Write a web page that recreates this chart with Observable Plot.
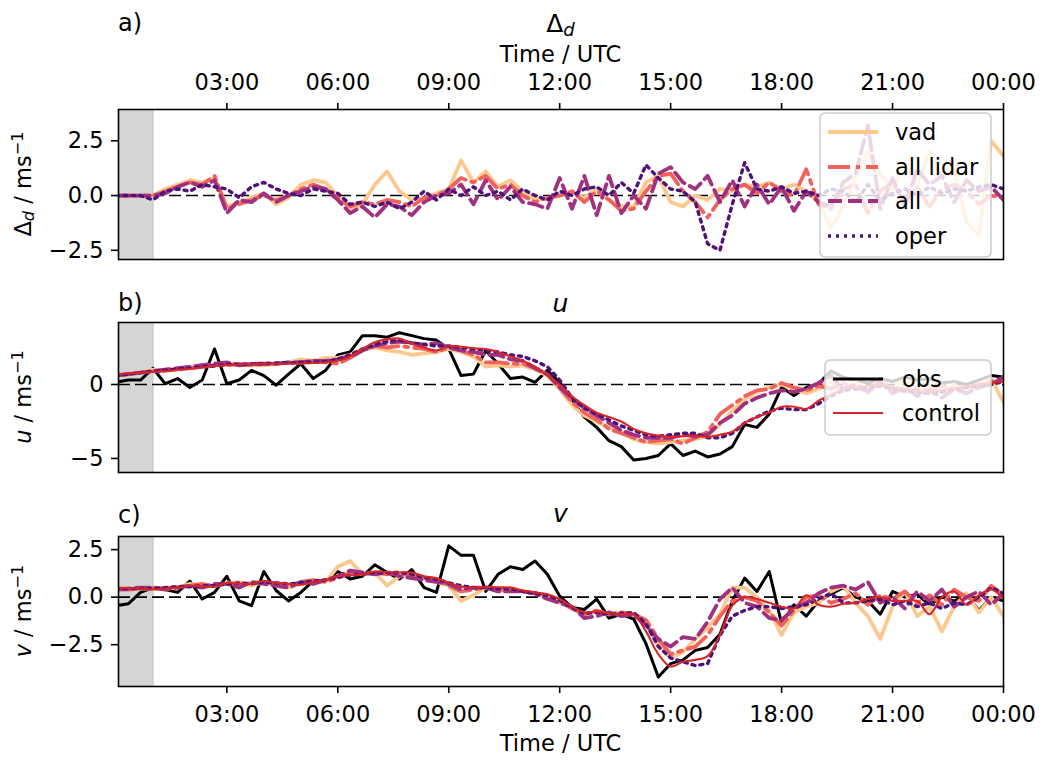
<!DOCTYPE html>
<html><head><meta charset="utf-8">
<script src="https://cdn.jsdelivr.net/npm/d3@7"></script>
<script src="https://cdn.jsdelivr.net/npm/@observablehq/plot@0.6"></script>
<style>
body{margin:0;background:#fff;}
#root{position:relative;width:1042px;height:760px;font-family:"DejaVu Sans",sans-serif;overflow:hidden;}
#root svg{position:absolute;left:0;}
</style></head>
<body><div id="root"></div>
<script>
// ---- time grid (hours UTC, 20-minute steps) and axis ticks ----
const times = d3.range(0, 73).map(k => k / 3);
const xTicks = [3, 6, 9, 12, 15, 18, 21, 24];
const spinUp = [{start: 0, end: 1}];
const seriesNames = ["vad", "all lidar", "all", "oper"];
const refNames = ["obs", "control"];

// ---- panel a: Δd ----
const dVad = [0,0,0, 0,0.3,0.5, 0.7,0.6,0.8, -0.5,-0.3,-0.1, 0.1,-0.4,-0.1, 0.5,0.7,0.6, 0.0,-0.6,-0.4, 0.5,1.1,0.2,
  -0.2,-0.1,0.1, 0.3,1.6,0.6, 1.1,0.4,0.7, 0.2,-0.15,-0.15, 0.0,0.1,-0.1, 0.3,-0.2,-0.5, -0.5,0.6,0.9, -0.3,-0.5,0.0,
  -0.2,0.3,0.2, 0.5,0.4,0.6, 0.3,0.5,0.2, -0.3,-1.5,-0.5, 0.8,2.0,1.0, 0.3,1.5,0.5, 2.0,0.8,1.2, -1.2,-1.8,2.5, 1.8];
const dLidar = [0,0,0, 0,0.2,0.4, 0.6,0.5,0.9, -0.6,-0.4,-0.2, 0.0,-0.2,0.0, 0.3,0.5,0.3, -0.1,-0.5,-0.3, -0.4,-0.2,-0.3,
  -0.5,-0.1,0.0, 0.3,0.8,0.6, 0.9,0.3,0.5, 0.0,-0.3,-0.1, 0.0,0.2,-0.3, 0.2,-0.2,-0.7, -0.6,0.2,0.9, 1.0,0.2,-0.3,
  -1.0,-0.2,0.3, 0.5,0.1,0.6, 0.2,0.0,1.2, -0.4,-0.6,0.3, 0.5,-0.8,0.2, 0.6,-0.3,0.4, -0.5,0.3,0.5, 0.2,-0.4,0.0, -0.1];
const dAll = [0,0,0, 0,0.1,0.4, 0.6,0.4,0.7, -0.8,-0.2,-0.3, 0.1,-0.3,0.0, 0.2,0.4,0.3, -0.2,-0.8,-0.5, -1.0,-0.4,-0.5,
  -0.9,-0.3,0.0, 0.1,0.5,-0.4, 0.7,-0.2,0.4, -0.3,-0.4,-0.6, 0.8,-0.6,0.9, -0.9,0.9,-0.8, 0.0,-0.6,1.0, 1.3,0.6,0.3,
  0.9,-0.3,0.7, -0.5,0.5,-0.4, 0.4,-0.7,0.2, -0.3,-0.5,0.6, 1.0,3.2,-0.6, 0.8,-0.5,1.2, 0.5,0.9,-0.3, 0.7,0.2,0.4, -0.2];
const dOper = [0,0,0, -0.2,0.2,0.3, 0.2,0.5,0.4, 0.3,-0.1,0.4, 0.6,0.3,0.1, 0.0,0.3,0.2, 0.1,-0.4,-0.3, -0.5,-0.3,-0.6,
  -0.3,0.2,-0.2, 0.3,0.0,0.4, 0.0,0.2,-0.2, 0.3,0.0,-0.2, 0.2,0.0,0.3, 0.4,0.0,0.6, 0.1,1.4,0.8, 0.3,0.2,-0.3,
  -2.2,-2.5,-0.4, 1.5,0.3,0.2, 0.4,0.1,0.2, 0.0,0.3,0.2, -0.3,0.5,-0.2, 0.1,0.3,0.0, 0.4,0.1,0.3, 0.2,0.4,0.5, 0.3];

// ---- panel b: u ----
const uObs = [0.15,0.3,0.3, 1.1,0.05,0.4, -0.2,0.3,2.4, 0.05,0.3,0.95, 0.6,-0.05,0.7, 1.4,0.4,0.95, 2.0,2.2,3.3, 3.3,3.2,3.5,
  3.3,3.1,3.0, 2.4,0.6,0.7, 2.3,1.4,0.4, 0.5,0.15,0.95, 0.15,-1.1,-2.2, -2.9,-3.8,-4.2, -5.1,-5.0,-4.8, -4.0,-4.8,-4.5,
  -4.9,-4.7,-4.2, -2.7,-2.9,-2.0, -0.2,-0.75,-0.2, 0.05,0.9,0.5, 0.3,0.1,0.4, 0.2,0.5,0.3, 0.4,0.1,0.2, 0.0,0.3,0.6, 0.5];
const uVad = [0.6,0.7,0.8, 1.0,0.9,1.0, 1.2,1.3,1.3, 1.4,1.3,1.3, 1.3,1.4,1.5, 1.7,1.6,1.8, 1.8,2.0,2.4, 2.5,2.3,2.2,
  2.0,2.1,2.2, 2.4,2.2,1.9, 1.2,1.3,1.2, 1.3,1.0,0.6, -0.3,-1.4,-2.1, -2.5,-2.9,-3.2, -3.7,-3.9,-4.0, -3.9,-3.8,-3.7,
  -3.5,-2.7,-1.8, -1.0,-0.5,-0.2, 0.0,-0.3,-0.6, -0.3,0.2,-0.5, 0.2,-0.6,0.1, -0.4,0.3,-0.8, -0.2,-0.5,0.0, -0.6,-0.2,0.4, -1.2];
const uLidar = [0.6,0.7,0.8, 0.9,1.0,1.0, 1.1,1.2,1.3, 1.3,1.4,1.3, 1.4,1.4,1.5, 1.5,1.6,1.5, 1.4,1.8,2.3, 2.6,2.5,2.6,
  2.5,2.4,2.2, 2.5,2.3,2.0, 1.5,1.5,1.4, 1.4,1.1,0.7, -0.2,-1.2,-1.9, -2.4,-3.0,-3.3, -3.6,-3.9,-3.8, -3.7,-4.0,-3.6,
  -3.2,-2.0,-1.4, -0.8,-0.4,-0.3, 0.1,-0.2,-0.4, -0.1,-0.3,0.1, -0.3,-0.4,0.0, -0.2,-0.5,-0.3, -0.4,-0.1,-0.3, -0.2,0.0,0.2, 0.4];
const uAll = [0.6,0.7,0.8, 0.9,1.0,1.1, 1.2,1.3,1.4, 1.5,1.3,1.4, 1.4,1.4,1.5, 1.5,1.6,1.6, 1.7,1.9,2.3, 2.6,2.8,2.9,
  2.8,2.7,2.8, 2.5,2.3,2.2, 2.0,2.0,1.7, 1.6,1.1,0.7, -0.2,-0.9,-1.6, -2.1,-2.6,-3.1, -3.4,-3.6,-3.6, -3.6,-3.4,-3.5,
  -3.4,-2.6,-2.1, -1.3,-0.9,-0.6, -0.4,-0.5,-0.3, 0.1,0.6,-0.3, 0.0,-0.5,0.2, -0.6,-0.2,-0.8, -0.4,-0.9,-0.3, -0.6,-0.2,0.0, 0.5];
const uOper = [0.6,0.7,0.8, 0.9,0.95,1.05, 1.1,1.2,1.25, 1.35,1.35,1.4, 1.4,1.45,1.45, 1.5,1.5,1.55, 1.7,2.0,2.4, 2.7,2.9,3.0,
  2.8,2.7,2.6, 2.6,2.5,2.4, 2.3,2.2,2.0, 1.9,1.6,1.2, 0.3,-0.9,-1.6, -2.0,-2.4,-2.8, -3.1,-3.4,-3.5, -3.4,-3.3,-3.3,
  -3.6,-3.6,-3.3, -2.6,-2.2,-1.8, -1.6,-1.7,-1.7, -1.3,-0.8,-0.4, -0.3,-0.2,-0.1, -0.3,-0.4,-0.5, -0.6,-0.5,-0.3, -0.2,-0.1,0.0, 0.2];
const uControl = [0.7,0.75,0.8, 0.85,0.9,1.0, 1.05,1.15,1.25, 1.3,1.35,1.4, 1.4,1.4,1.4, 1.4,1.45,1.5, 1.6,1.9,2.4, 2.85,3.05,3.1,
  2.75,2.5,2.3, 2.6,2.55,2.45, 2.4,2.2,1.9, 1.6,1.2,0.6, 0.0,-0.8,-1.4, -1.9,-2.2,-2.5, -3.0,-3.3,-3.45, -3.55,-3.5,-3.45,
  -3.55,-3.4,-3.2, -2.6,-2.2,-1.9, -1.5,-1.5,-1.65, -1.1,-0.7,-0.3, -0.2,-0.1,0.0, -0.2,-0.3,-0.4, -0.5,-0.4,-0.3, -0.1,0.0,0.1, 0.2];

// ---- panel c: v ----
const vObs = [-0.45,-0.35,0.25, 0.5,0.4,0.25, 0.85,-0.1,0.25, 1.1,-0.2,-0.45, 1.35,0.35,-0.2, 0.25,0.85,0.85, 1.35,0.95,1.1, 1.7,1.3,0.95,
  1.45,0.5,0.25, 2.7,2.2,2.2, 0.3,1.2,1.6, 1.45,1.9,1.2, 0.05,-0.55,-0.65, -0.1,-1.1,-0.9, -1.15,-2.45,-4.2, -3.5,-3.3,-2.8,
  -2.65,-1.95,-0.2, 1.0,0.3,1.35, -1.4,-0.4,-1.0, -0.2,0.15,0.5, 0.0,-0.2,-0.9, 0.3,0.0,0.15, -0.4,0.0,-0.2, 0.15,-0.7,0.0, -0.2];
const vVad = [0.4,0.45,0.45, 0.45,0.5,0.5, 0.7,0.6,0.6, 0.7,0.8,0.6, 0.8,0.6,0.5, 0.7,0.9,0.8, 1.6,1.9,1.2, 1.3,0.6,1.1,
  1.2,1.0,0.8, 0.6,-0.2,0.1, 0.5,0.3,0.5, 0.3,0.2,0.0, -0.3,-0.6,-0.9, -0.8,-0.9,-0.8, -0.9,-1.4,-2.5, -3.2,-2.9,-2.2,
  -1.6,-0.9,0.5, 0.5,0.0,-0.7, -2.0,-0.8,-0.5, -0.3,0.3,0.6, -0.3,-1.0,-2.2, -0.5,0.3,-1.0, -0.5,-1.8,-0.5, 0.2,-0.8,0.0, -1.0];
const vLidar = [0.4,0.4,0.45, 0.5,0.45,0.55, 0.6,0.7,0.55, 0.8,0.6,0.75, 0.8,0.7,0.6, 0.8,0.9,0.8, 1.0,1.3,1.2, 1.3,1.2,1.3,
  1.1,1.0,0.9, 0.6,0.3,0.4, 0.5,0.4,0.4, 0.3,0.2,0.1, -0.2,-0.6,-0.9, -0.7,-0.9,-0.8, -0.9,-1.2,-2.2, -3.0,-2.8,-2.6,
  -2.0,-1.0,-0.2, 0.0,-0.2,-0.8, -1.5,-0.7,0.0, 0.1,-0.3,-0.1, 0.2,-0.4,0.1, -0.1,0.3,-0.3, 0.1,-0.4,0.4, 0.0,-0.2,0.6, 0.1];
const vAll = [0.4,0.45,0.5, 0.5,0.4,0.5, 0.6,0.5,0.7, 0.7,0.5,0.8, 0.7,0.6,0.5, 0.8,0.7,0.9, 1.1,1.4,1.3, 1.2,1.3,1.1,
  1.0,0.9,0.8, 0.7,0.4,0.5, 0.5,0.3,0.3, 0.3,0.2,-0.1, -0.3,-0.5,-1.1, -1.0,-0.8,-1.0, -0.9,-1.5,-2.2, -2.6,-2.1,-2.2,
  -1.3,-0.1,0.5, -0.3,-0.5,-1.1, -1.2,-0.6,-0.3, 0.2,0.5,0.6, 0.4,0.8,-0.3, 0.0,-0.6,0.3, -0.2,0.4,-0.5, 0.0,0.3,-0.4, 0.2];
const vOper = [0.45,0.45,0.45, 0.45,0.5,0.55, 0.55,0.6,0.6, 0.7,0.75,0.7, 0.8,0.75,0.7, 0.75,0.85,0.9, 1.05,1.15,1.2, 1.3,1.3,1.3,
  1.2,1.05,0.95, 0.75,0.6,0.5, 0.5,0.45,0.45, 0.3,0.2,0.1, -0.15,-0.55,-0.85, -0.8,-0.9,-0.85, -0.8,-1.4,-2.6, -3.2,-3.4,-3.6,
  -3.5,-2.0,-1.0, -0.7,-0.5,-0.5, -0.6,-0.5,-0.4, -0.1,0.2,-0.3, -0.3,-0.2,-0.1, -0.4,-0.2,-0.5, -0.3,-0.6,-0.3, -0.4,0.0,0.5, 0.2];
const vControl = [0.5,0.48,0.45, 0.4,0.45,0.5, 0.6,0.58,0.55, 0.75,0.72,0.7, 0.85,0.75,0.7, 0.65,0.8,0.9, 1.1,1.15,1.2, 1.35,1.32,1.3,
  1.3,1.1,1.0, 0.75,0.55,0.5, 0.55,0.52,0.5, 0.35,0.25,0.15, -0.1,-0.5,-0.8, -0.75,-0.85,-0.9, -0.9,-1.8,-3.0, -3.65,-3.4,-3.3,
  -3.1,-2.0,-0.45, 0.0,-0.1,-0.3, -0.5,-0.6,0.1, -0.4,-0.5,-0.35, -0.3,-0.1,0.0, -0.2,-0.2,-0.2, -0.9,0.0,0.3, -0.4,0.1,0.4, -0.1];

// ---- styling ----
const styles = {
  "vad":       {stroke: "#fdc88e", strokeWidth: 3.8},
  "all lidar": {stroke: "#f1625c", strokeWidth: 3.8, strokeDasharray: "22,6,4,6"},
  "all":       {stroke: "#a1317e", strokeWidth: 3.8, strokeDasharray: "14,6"},
  "oper":      {stroke: "#4f127b", strokeWidth: 3.4, strokeDasharray: "3,5"},
  "obs":       {stroke: "#000000", strokeWidth: 3.0},
  "control":   {stroke: "#d62728", strokeWidth: 2.1}
};
const FONT = "DejaVu Sans";
const FS = 22.5, FT = 25;
const W = 1042, ML = 118, MR = 39, PH = 150;
const xDomain = [0.07, 24];
const fmtTime = h => String(h % 24).padStart(2, "0") + ":00";

function lineMark(values, key, curve = "linear") {
  const data = times.map((t, i) => ({t, v: values[i]}));
  return Plot.line(data, {x: "t", y: "v", ...styles[key], curve, strokeLinejoin: "round", clip: true});
}

// shift a group of axis labels so that their text baseline lands at a given page y
function placeLabels(svg, top, label, baseline) {
  const g = svg.querySelector(`g[aria-label="${label}"]`);
  if (!g) return;
  const r = g.getBoundingClientRect();
  const ascent = 0.928 * FS;
  const dy = (baseline - ascent) - r.top;
  g.setAttribute("transform", `translate(0,${dy.toFixed(2)}) ` + (g.getAttribute("transform") || ""));
}

function panel({top, marginTop, marginBottom, yDomain, yTicks, yFmt, xAxis, xBaseline, lines}) {
  const marks = [
    Plot.rect(spinUp, {x1: "start", x2: "end", fill: "#d5d5d5", clip: true}),
    Plot.ruleX(spinUp, {x: "end", stroke: "#c6c6c6", strokeWidth: 1.5}),
    Plot.ruleY([0], {stroke: "#000", strokeWidth: 1.6, strokeDasharray: "12,5"}),
    ...lines,
    Plot.frame({stroke: "#000", strokeWidth: 1.6}),
    Plot.axisY({ticks: yTicks, tickFormat: yFmt, tickSize: 7, tickPadding: 8, strokeWidth: 1.6, label: null})
  ];
  if (xAxis) marks.push(Plot.axisX({anchor: xAxis, ticks: xTicks, tickFormat: fmtTime, tickSize: 7,
    tickPadding: 8, strokeWidth: 1.6, label: null}));
  const svg = Plot.plot({
    width: W, height: marginTop + PH + marginBottom,
    marginLeft: ML, marginRight: MR, marginTop, marginBottom,
    style: {fontFamily: FONT, fontSize: FS + "px", color: "#000", background: "transparent"},
    x: {domain: xDomain, axis: xAxis ? undefined : null},
    y: {domain: yDomain},
    marks
  });
  svg.style.top = top + "px";
  document.getElementById("root").appendChild(svg);
  if (xAxis) placeLabels(svg, top, "x-axis tick label", xBaseline);
}

const f1 = d3.format(".1f"), f0 = d3.format("d");

panel({top: 0, marginTop: 109, marginBottom: 6, yDomain: [-2.92, 3.93], yTicks: [-2.5, 0, 2.5], yFmt: f1,
  xAxis: "top", xBaseline: 90,
  lines: [lineMark(dVad, "vad"), lineMark(dLidar, "all lidar"), lineMark(dAll, "all"), lineMark(dOper, "oper")]});
panel({top: 290, marginTop: 32, marginBottom: 6, yDomain: [-5.95, 4.19], yTicks: [-5, 0], yFmt: f0, xAxis: null,
  lines: [lineMark(uObs, "obs"), lineMark(uVad, "vad"), lineMark(uLidar, "all lidar"), lineMark(uAll, "all"),
          lineMark(uOper, "oper"), lineMark(uControl, "control", "catmull-rom")]});
panel({top: 500, marginTop: 36, marginBottom: 74, yDomain: [-4.7, 3.19], yTicks: [-2.5, 0, 2.5], yFmt: f1,
  xAxis: "bottom", xBaseline: 722,
  lines: [lineMark(vObs, "obs"), lineMark(vVad, "vad"), lineMark(vLidar, "all lidar"), lineMark(vAll, "all"),
          lineMark(vOper, "oper"), lineMark(vControl, "control", "catmull-rom")]});

// ---- text overlay (titles, labels) ----
const over = d3.select("#root").append("svg").attr("width", W).attr("height", 760)
  .style("top", "0px").style("pointer-events", "none")
  .attr("font-family", FONT).attr("font-size", FS);
function txt(x, y, anchor) { return over.append("text").attr("x", x).attr("y", y).attr("text-anchor", anchor); }
const cx = (ML + (W - MR)) / 2;
txt(118, 31, "start").attr("font-size", 24).text("a)");
txt(118, 311, "start").attr("font-size", 24).text("b)");
txt(118, 523, "start").attr("font-size", 24).text("c)");
const tA = txt(cx, 32, "middle").attr("font-size", FT);
tA.append("tspan").text("Δ");
tA.append("tspan").attr("font-style", "italic").attr("font-size", FT * 0.72).attr("dy", 4).text("d");
txt(cx, 312, "middle").attr("font-size", FT).attr("font-style", "italic").text("u");
txt(cx, 522, "middle").attr("font-size", FT).attr("font-style", "italic").text("v");
txt(cx, 62, "middle").text("Time / UTC");
txt(cx, 751, "middle").text("Time / UTC");

function yLabel(cy, build) {
  const t = over.append("text").attr("transform", `translate(31,${cy}) rotate(-90)`).attr("text-anchor", "middle");
  build(t);
  return t;
}
yLabel(184, t => {
  t.append("tspan").text("Δ");
  t.append("tspan").attr("font-style", "italic").attr("font-size", FS * 0.72).attr("dy", 3).text("d");
  t.append("tspan").attr("dy", -3).text(" / ms");
  t.append("tspan").attr("font-size", FS * 0.72).attr("dy", -8).text("−1");
});
yLabel(397, t => {
  t.append("tspan").attr("font-style", "italic").text("u");
  t.append("tspan").text(" / ms");
  t.append("tspan").attr("font-size", FS * 0.72).attr("dy", -8).text("−1");
});
yLabel(611, t => {
  t.append("tspan").attr("font-style", "italic").text("v");
  t.append("tspan").text(" / ms");
  t.append("tspan").attr("font-size", FS * 0.72).attr("dy", -8).text("−1");
});

// ---- legends ----
function legend(x, y, w, h, names, rowYs, lineX1, lineX2, textX) {
  const g = d3.select("#root").append("svg").attr("width", w + 4).attr("height", h + 4)
    .style("left", (x - 2) + "px").style("top", (y - 2) + "px")
    .attr("font-family", FONT).attr("font-size", FS);
  g.append("rect").attr("x", 2).attr("y", 2).attr("width", w).attr("height", h).attr("rx", 5)
    .attr("fill", "#fff").attr("fill-opacity", 0.8).attr("stroke", "#cccccc").attr("stroke-width", 1.5);
  names.forEach((n, i) => {
    const s = styles[n];
    const ry = rowYs[i] - y + 2;
    g.append("line").attr("x1", lineX1 - x + 2).attr("x2", lineX2 - x + 2).attr("y1", ry).attr("y2", ry)
      .attr("stroke", s.stroke).attr("stroke-width", s.strokeWidth).attr("stroke-dasharray", s.strokeDasharray || null);
    g.append("text").attr("x", textX - x + 2).attr("y", ry + 8).text(n);
  });
}
legend(820, 113, 171, 144, seriesNames, [132, 167, 201, 236], 828, 878, 895);
legend(825, 360, 166, 75, refNames, [379, 413], 833, 883, 902);
</script>
</body></html>
